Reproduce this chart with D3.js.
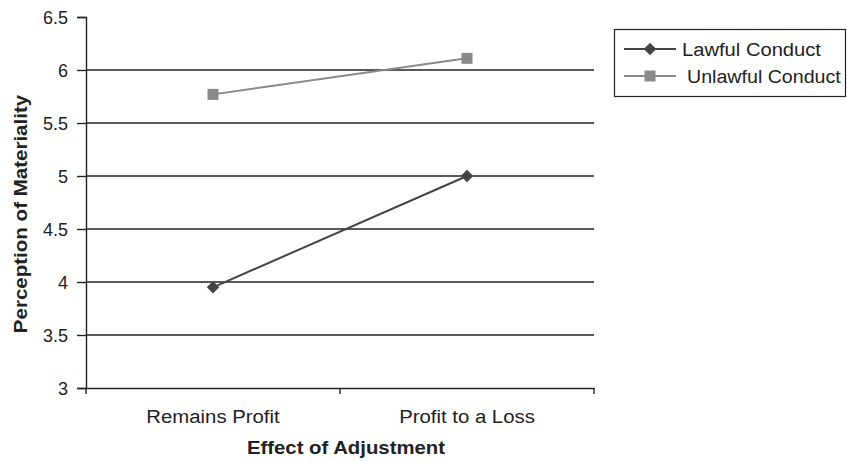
<!DOCTYPE html>
<html><head><meta charset="utf-8">
<script src="https://cdn.jsdelivr.net/npm/d3@7"></script>
<style>body{margin:0;background:#fff;}text{font-family:Arial,"Liberation Sans",sans-serif;}</style>
</head><body>
<svg id="c" width="847" height="461"></svg>
<script>
const categories = ["Remains Profit", "Profit to a Loss"];
const lawful = [3.95, 5.0];
const unlawful = [5.77, 6.11];
const yTicks = [3, 3.5, 4, 4.5, 5, 5.5, 6, 6.5];
const seriesNames = ["Lawful Conduct", "Unlawful Conduct"];

(function(){
const svg = d3.select("#c");
const mLeft = 86, mRight = 594, mTop = 17, mBottom = 388;
const ink = "#222";
const x = d3.scaleBand().domain(categories).range([mLeft, mRight]);
const y = d3.scaleLinear().domain([3, 6.5]).range([mBottom, mTop]);

function stretch(sel, f) {
  sel.each(function() {
    const w = this.getComputedTextLength();
    d3.select(this).attr("textLength", w * f).attr("lengthAdjust", "spacingAndGlyphs");
  });
}

svg.append("g").selectAll("line").data(yTicks.filter(t => t > 3 && t < 6.5)).join("line")
  .attr("x1", mLeft).attr("x2", mRight).attr("y1", d => y(d)).attr("y2", d => y(d))
  .attr("stroke", ink).attr("stroke-width", 1.4);

const yAxis = svg.append("g").attr("transform", `translate(${mLeft},0)`)
  .call(d3.axisLeft(y).tickValues(yTicks).tickFormat(d3.format("~g")).tickSize(9).tickPadding(9));
yAxis.select(".domain").attr("stroke", ink).attr("stroke-width", 1.4);
yAxis.selectAll(".tick line").attr("stroke", ink).attr("stroke-width", 1.4);
yAxis.selectAll("text").attr("font-size", 18).attr("fill", ink).attr("dy", "0.34em")
  .style("font-family", "Arial, 'Liberation Sans', sans-serif");

const xAxis = svg.append("g").attr("transform", `translate(0,${mBottom})`)
  .call(d3.axisBottom(x).tickSize(0).tickPadding(22));
xAxis.select(".domain").attr("stroke", ink).attr("stroke-width", 1.4);
const xt = xAxis.selectAll("text").attr("font-size", 18).attr("fill", ink).attr("dy", "0.7em")
  .style("font-family", "Arial, 'Liberation Sans', sans-serif");
stretch(xt, 1.13);
const bounds = [mLeft, ...categories.map(c => x(c) + x.bandwidth())];
svg.append("g").selectAll("line").data(bounds).join("line")
  .attr("x1", d => d).attr("x2", d => d).attr("y1", mBottom).attr("y2", mBottom + 6)
  .attr("stroke", ink).attr("stroke-width", 1.4);

const cx = c => x(c) + x.bandwidth() / 2;
const line = d3.line().x((d, i) => cx(categories[i])).y(d => y(d));

svg.append("path").datum(unlawful).attr("d", line).attr("fill", "none").attr("stroke", "#8a8a8a").attr("stroke-width", 2);
svg.append("g").selectAll("rect").data(unlawful).join("rect")
  .attr("x", (d, i) => cx(categories[i]) - 5.5).attr("y", d => y(d) - 5.5)
  .attr("width", 11).attr("height", 11).attr("fill", "#8a8a8a");
svg.append("path").datum(lawful).attr("d", line).attr("fill", "none").attr("stroke", "#444").attr("stroke-width", 2);
const diamond = d3.symbol().type(d3.symbolDiamond2).size(100);
svg.append("g").selectAll("path").data(lawful).join("path")
  .attr("d", diamond).attr("transform", (d, i) => `translate(${cx(categories[i])},${y(d)})`)
  .attr("fill", "#444");

const xt2 = svg.append("text").attr("x", 346).attr("y", 454).attr("text-anchor", "middle")
  .attr("font-size", 18).attr("font-weight", "bold").attr("fill", ink).text("Effect of Adjustment");
stretch(xt2, 1.13);
const yt2 = svg.append("text").attr("transform", `translate(27,214) rotate(-90)`).attr("text-anchor", "middle")
  .attr("font-size", 18).attr("font-weight", "bold").attr("fill", ink).text("Perception of Materiality");
stretch(yt2, 1.14);

const lg = svg.append("g");
lg.append("rect").attr("x", 614.5).attr("y", 29.5).attr("width", 231).attr("height", 67)
  .attr("fill", "#fff").attr("stroke", ink).attr("stroke-width", 1.2);
const lgColors = ["#444", "#8a8a8a"];
seriesNames.forEach((n, i) => {
  const yy = 49 + i * 27;
  lg.append("line").attr("x1", 624).attr("x2", 676).attr("y1", yy).attr("y2", yy).attr("stroke", lgColors[i]).attr("stroke-width", 2);
  if (i === 0) lg.append("path").attr("d", diamond).attr("transform", `translate(650,${yy})`).attr("fill", lgColors[i]);
  else lg.append("rect").attr("x", 644.5).attr("y", yy - 5.5).attr("width", 11).attr("height", 11).attr("fill", lgColors[i]);
  const t = lg.append("text").attr("x", i === 0 ? 682 : 687).attr("y", yy + 7).attr("font-size", 18).attr("fill", ink).text(n);
  stretch(t, i === 0 ? 1.12 : 1.09);
});
})();
</script>
</body></html>
